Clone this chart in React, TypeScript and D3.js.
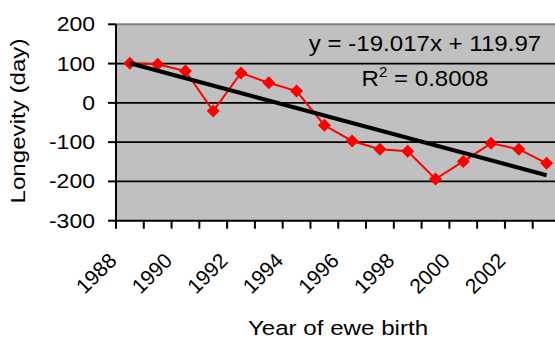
import * as d3 from 'd3';
import { FC } from 'react';

const years = [1988, 1989, 1990, 1991, 1992, 1993, 1994, 1995, 1996, 1997, 1998, 1999, 2000, 2001, 2002, 2003];
const longevity = [101, 98, 81, -21, 76, 51, 30, -57, -97, -118, -123, -194, -149, -103, -118, -154];
const yTicks = [200, 100, 0, -100, -200, -300];
const xLabelYears = [1988, 1990, 1992, 1994, 1996, 1998, 2000, 2002];
const slope = -19.017;
const intercept = 119.97;
const r2 = 0.8008;

const width = 555;
const height = 340;
const margin = { left: 116, top: 24.3, bottom: 220.7 };
const plotRight = 560.5;
const font = "'Liberation Sans', Arial, sans-serif";
// Excel renders the text a bit wider than Arial
const stretch = 1.15;
const eqStretch = 1.07;

const Chart: FC = () => {
  const x = d3
    .scaleBand<number>()
    .domain(years)
    .range([margin.left, plotRight])
    .padding(0);
  const y = d3.scaleLinear().domain([-300, 200]).range([margin.bottom, margin.top]);
  const cx = (yr: number) => (x(yr) as number) + x.bandwidth() / 2;

  const line = d3
    .line<number>()
    .x((_, i) => cx(years[i]))
    .y((d) => y(d));

  const first = years[0];
  const last = years[years.length - 1];
  const trendY = (yr: number) => slope * (yr - first + 1) + intercept;

  const diamond = (px: number, py: number) => {
    const s = 6.5;
    return `M${px},${py - s}L${px + s},${py}L${px},${py + s}L${px - s},${py}Z`;
  };

  const boundaries = years.map((yr) => x(yr) as number).concat([plotRight]);

  return (
    <svg
      width={width}
      height={height}
      style={{ position: 'absolute', left: 0, top: 0, background: '#fff' }}
      fontFamily={font}
    >
      <rect
        x={margin.left}
        y={margin.top}
        width={plotRight - margin.left}
        height={margin.bottom - margin.top}
        fill="#c0c0c0"
      />
      <line x1={margin.left} x2={plotRight} y1={margin.top} y2={margin.top} stroke="#808080" strokeWidth={2} />
      {yTicks
        .filter((t) => t !== 200 && t !== -300)
        .map((t) => (
          <line key={t} x1={margin.left} x2={plotRight} y1={y(t)} y2={y(t)} stroke="#000" strokeWidth={1.8} />
        ))}
      {/* axes */}
      <line x1={margin.left} x2={margin.left} y1={margin.top} y2={margin.bottom + 1} stroke="#000" strokeWidth={2} />
      <line x1={margin.left - 1} x2={plotRight} y1={margin.bottom} y2={margin.bottom} stroke="#000" strokeWidth={2} />
      {yTicks.map((t) => (
        <g key={t}>
          <line x1={margin.left - 8} x2={margin.left} y1={y(t)} y2={y(t)} stroke="#000" strokeWidth={2} />
          <text
            transform={`translate(95,${y(t) + 7}) scale(${stretch},1)`}
            textAnchor="end"
            fontSize={20}
            fill="#000"
          >
            {t}
          </text>
        </g>
      ))}
      {boundaries.map((b, i) => (
        <line key={i} x1={b} x2={b} y1={margin.bottom} y2={margin.bottom + 8} stroke="#000" strokeWidth={2} />
      ))}
      {xLabelYears.map((yr) => (
        <text
          key={yr}
          transform={`translate(${cx(yr) - 12},${262}) rotate(-45)`}
          textAnchor="end"
          fontSize={21}
          fill="#000"
        >
          {yr}
        </text>
      ))}
      {/* data */}
      <path d={line(longevity) as string} fill="none" stroke="#ff0000" strokeWidth={2} />
      {longevity.map((v, i) => (
        <path key={i} d={diamond(cx(years[i]), y(v))} fill="#ff0000" />
      ))}
      <line
        x1={cx(first)}
        y1={y(trendY(first))}
        x2={cx(last)}
        y2={y(trendY(last))}
        stroke="#000"
        strokeWidth={4}
      />
      <text
        transform={`translate(425,50.7) scale(${eqStretch},1)`}
        textAnchor="middle"
        fontSize={22.5}
        fill="#000"
      >
        y = {slope}x + {intercept}
      </text>
      <text
        transform={`translate(425,86) scale(${eqStretch},1)`}
        textAnchor="middle"
        fontSize={22.5}
        fill="#000"
      >
        R<tspan dy={-9} fontSize={14}>2</tspan>
        <tspan dy={9}> = {r2}</tspan>
      </text>
      <text
        transform={`translate(25,121) rotate(-90) scale(${stretch},1)`}
        textAnchor="middle"
        fontSize={21}
        fill="#000"
      >
        Longevity (day)
      </text>
      <text
        transform={`translate(338,335) scale(${stretch},1)`}
        textAnchor="middle"
        fontSize={21}
        fill="#000"
      >
        Year of ewe birth
      </text>
    </svg>
  );
};

export default function App() {
  return <Chart />;
}
